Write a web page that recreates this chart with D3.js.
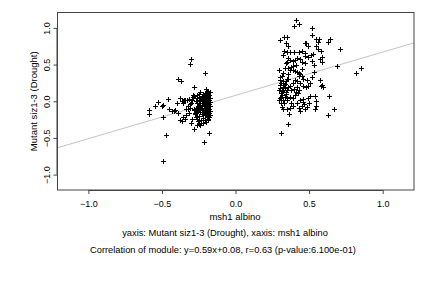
<!DOCTYPE html>
<html><head><meta charset="utf-8">
<script src="https://cdn.jsdelivr.net/npm/d3@7"></script>
<style>body{margin:0;background:#fff}svg{display:block;font-family:"Liberation Sans",Arial,sans-serif}text{fill:#000}</style>
</head><body><svg id="c" width="432" height="288"></svg>
<script>
const xTicks = [-1.0, -0.5, 0.0, 0.5, 1.0];
const yTicks = [-1.0, -0.5, 0.0, 0.5, 1.0];
const xLabel = "msh1 albino";
const yLabel = "Mutant siz1-3 (Drought)";
const subtitle1 = "yaxis: Mutant siz1-3 (Drought), xaxis: msh1 albino";
const subtitle2 = "Correlation of module: y=0.59x+0.08, r=0.63 (p-value:6.100e-01)";
const fitSlope = 0.59, fitIntercept = 0.08;

// left cluster (x, y)
const leftX = [-0.49,-0.59,-0.59,-0.545,-0.53,-0.50,-0.49,-0.49,-0.475,-0.46,-0.45,-0.43,-0.42,-0.41,-0.40,-0.39,-0.37,-0.39,-0.375,-0.365,-0.36,-0.355,-0.365,-0.35,-0.355,-0.34,-0.345,-0.31,-0.30,-0.315,-0.31,-0.315,-0.30,-0.295,-0.285,-0.29,-0.28,-0.28,-0.265,-0.25,-0.21,-0.215,-0.18,-0.20,-0.195,
 -0.375,-0.357,-0.346,-0.34,-0.324,-0.33,-0.32,-0.31,-0.30,-0.295,-0.288,-0.28,-0.275,-0.27,-0.265,-0.26,-0.255,-0.25,-0.262,-0.252,-0.245,-0.285,-0.27,-0.29,-0.25,-0.24,-0.23,
 -0.175,-0.18,-0.175,-0.18,-0.175,-0.18,-0.175,-0.18,-0.175,-0.18,-0.175,-0.18,-0.185,-0.19,-0.185,-0.19,-0.185,-0.19,-0.185,-0.19,-0.185,-0.19,-0.185,-0.19,-0.20,-0.195,-0.20,-0.205,-0.20,-0.195,-0.20,-0.205,-0.20,-0.195,-0.21,-0.215,-0.21,-0.215,-0.21,-0.215,-0.21,-0.215,-0.21,-0.22,-0.225,-0.23,-0.225,-0.23,-0.225,-0.23,-0.225,-0.23,-0.225,-0.235,-0.24,-0.245,-0.24,-0.245,-0.24,-0.25,-0.255,-0.26,-0.255,-0.265,-0.26,-0.27,-0.275,-0.27,-0.22,-0.24,-0.21,-0.20,-0.185,-0.19,-0.205,-0.22,-0.235,-0.25];
const leftY = [-0.82,-0.12,-0.18,-0.065,-0.015,-0.06,-0.055,-0.21,-0.46,0.035,-0.10,-0.13,-0.13,-0.12,-0.02,0.305,0.28,-0.16,-0.25,-0.27,-0.22,-0.21,0.0,0.02,-0.03,-0.19,-0.245,0.51,0.574,0.03,-0.04,-0.16,-0.29,-0.24,0.20,0.09,0.07,-0.38,-0.32,-0.31,0.39,-0.56,-0.43,0.165,0.145,
 0.04,0.005,0.018,-0.105,-0.064,0.018,-0.11,-0.09,-0.03,0.02,0.06,-0.11,-0.16,0.0,-0.21,0.05,-0.07,0.02,-0.24,-0.27,-0.20,-0.12,-0.14,0.08,0.1,0.12,-0.05,
 0.12,0.08,0.05,0.02,-0.01,-0.04,-0.07,-0.10,-0.13,-0.16,-0.19,-0.22,0.10,0.06,0.03,0.0,-0.03,-0.06,-0.09,-0.12,-0.15,-0.18,-0.21,-0.24,0.09,0.04,0.01,-0.02,-0.05,-0.08,-0.11,-0.14,-0.17,-0.20,0.06,0.02,-0.01,-0.04,-0.07,-0.10,-0.13,-0.16,-0.19,-0.23,0.07,0.03,0.0,-0.03,-0.06,-0.09,-0.12,-0.15,-0.18,-0.26,-0.02,-0.05,-0.08,-0.11,-0.14,0.02,-0.06,-0.09,-0.13,0.08,-0.03,-0.10,-0.17,-0.22,-0.30,-0.32,-0.26,-0.28,-0.26,0.13,0.11,0.10,0.05,0.06];

// right cluster (x, y)
const rightX = [0.41,0.43,0.40,0.52,0.52,0.30,0.33,0.35,0.345,0.36,0.33,0.32,0.35,0.37,0.40,0.43,0.45,0.47,0.48,0.495,0.47,0.475,0.495,0.51,0.525,0.55,0.56,0.55,0.56,0.57,0.58,0.585,0.59,0.575,0.53,0.535,0.575,0.585,0.593,0.58,0.63,0.64,0.71,0.69,0.82,0.85,0.635,0.63,0.67,
 0.31,0.36,0.365,0.295,0.30,0.30,0.295,0.31,0.30,0.295,0.31,0.315,0.326,0.35,0.367,0.38,0.39,0.416,0.43,0.44,0.45,0.466,0.47,0.486,0.495,0.507,0.54,0.55,0.547,0.54,0.50,0.457,0.44,
 0.315,0.326,0.337,0.344,0.353,0.36,0.37,0.39,0.405,0.42,0.44,0.45,0.38,0.394,0.405,0.416,0.428,0.44,0.45,0.457,0.37,0.36,0.35,0.34,0.33,0.337,0.348,0.36,0.37,0.39,0.405,0.42,0.44,0.46,0.48,0.495,0.507,0.484,0.518,0.326,0.315,0.337,0.353,0.37,0.39,0.405,0.425,0.348,0.33,0.32,0.38,0.40,0.416,0.43,
 0.31,0.32,0.305,0.335,0.34,0.31,0.325,0.355,0.30,0.315,0.345,0.36,0.39,0.41,0.45,0.47,0.52,0.46,0.43,0.41];
const rightY = [1.11,1.06,1.02,1.0,0.91,0.84,0.87,0.87,0.80,0.76,0.69,0.63,0.665,0.67,0.67,0.67,0.69,0.79,0.80,0.75,0.655,0.62,0.60,0.63,0.64,0.85,0.81,0.75,0.71,0.85,0.68,0.61,0.54,0.575,0.50,0.405,0.29,0.22,0.19,0.21,0.81,0.85,0.71,0.48,0.39,0.455,0.07,-0.19,-0.10,
 -0.43,-0.31,-0.18,0.43,0.29,0.22,0.155,0.11,0.04,0.02,-0.02,-0.08,-0.10,-0.105,-0.095,-0.03,-0.07,-0.03,-0.095,-0.13,-0.07,-0.04,-0.11,-0.08,0.04,0.065,0.065,0.0,-0.065,-0.10,-0.02,0.03,0.018,
 0.34,0.38,0.45,0.52,0.54,0.59,0.565,0.55,0.565,0.59,0.57,0.54,0.47,0.43,0.41,0.405,0.39,0.37,0.345,0.31,0.42,0.37,0.31,0.27,0.22,0.18,0.155,0.19,0.21,0.245,0.29,0.27,0.245,0.21,0.19,0.21,0.245,0.29,0.33,0.155,0.087,0.064,0.04,0.064,0.05,0.087,0.11,0.018,-0.027,0.018,0.155,0.165,0.19,0.155,
 0.25,0.2,0.33,0.24,0.12,0.06,0.27,0.3,0.18,0.14,0.1,0.45,0.48,0.5,0.44,0.52,0.55,-0.01,0.35,0.12];

const FONT = '"Liberation Sans",Arial,sans-serif';
const svg = d3.select("#c");
const m = {l:57.5, r:414, t:12.5, b:190};
const x = d3.scaleLinear().domain([-1.21, 1.213]).range([m.l, m.r]);
const y = d3.scaleLinear().domain([-1.21, 1.21]).range([m.b, m.t]);

// fit line
const xd = x.domain();
svg.append("line")
  .attr("x1", x(xd[0])).attr("y1", y(fitSlope*xd[0]+fitIntercept))
  .attr("x2", x(xd[1])).attr("y2", y(fitSlope*xd[1]+fitIntercept))
  .attr("stroke", "#c4c4c4").attr("stroke-width", 1);

// points
const pts = [];
leftX.forEach((v,i)=>pts.push([v,leftY[i]]));
rightX.forEach((v,i)=>pts.push([v,rightY[i]]));
svg.append("g").selectAll("path").data(pts).join("path")
  .attr("transform", d=>`translate(${Math.round(x(d[0]))+0.5},${Math.round(y(d[1]))+0.5})`)
  .attr("d", "M-2.5,0H2.5M0,-2.5V2.5")
  .attr("stroke", "#000").attr("stroke-width", 1).attr("fill", "none");

// box
svg.append("rect").attr("x", m.l).attr("y", m.t).attr("width", m.r-m.l).attr("height", m.b-m.t)
  .attr("fill", "none").attr("stroke", "#444").attr("stroke-width", 1);

// x axis
const xa = svg.append("g").attr("transform", `translate(0,${m.b})`)
  .call(d3.axisBottom(x).tickValues(xTicks).tickFormat(d3.format(".1f")).tickSize(4).tickPadding(7));
xa.select(".domain").attr("d", `M${x(-1)},0.5H${x(1)}`).attr("stroke","#444");
xa.selectAll(".tick line").attr("stroke","#444");
xa.selectAll("text").attr("font-size", 9).attr("font-family", FONT).attr("fill","#000");

// y axis
const ya = svg.append("g").attr("transform", `translate(${m.l},0)`)
  .call(d3.axisLeft(y).tickValues(yTicks).tickFormat(d3.format(".1f")).tickSize(4).tickPadding(6));
ya.select(".domain").attr("d", `M-0.5,${y(-1)}V${y(1)}`).attr("stroke","#444");
ya.selectAll(".tick line").attr("stroke","#444");
ya.selectAll(".tick text").attr("font-size", 9).attr("font-family", FONT).attr("fill","#000")
  .attr("x", null).attr("dy", null).attr("text-anchor","middle")
  .attr("transform", "translate(-7.5,0) rotate(-90)");

svg.append("text").attr("x", 235).attr("y", 219.5).attr("text-anchor","middle")
  .attr("font-size", 9.5).attr("font-family", FONT).attr("fill","#000").text(xLabel);
svg.append("text").attr("transform", `translate(36.5,${(m.t+m.b)/2}) rotate(-90)`).attr("text-anchor","middle")
  .attr("font-size", 9.5).attr("font-family", FONT).attr("fill","#000").text(yLabel);
svg.append("text").attr("x", 225).attr("y", 235.5).attr("text-anchor","middle").attr("font-size", 9.3)
  .attr("font-family", FONT).attr("fill","#000").text(subtitle1);
svg.append("text").attr("x", 223).attr("y", 252.5).attr("text-anchor","middle").attr("font-size", 9.3)
  .attr("font-family", FONT).attr("fill","#000").text(subtitle2);
</script></body></html>
